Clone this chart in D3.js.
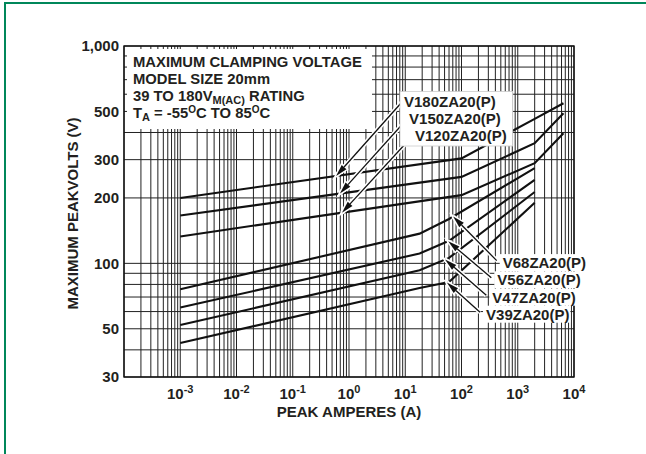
<!DOCTYPE html>
<html>
<head>
<meta charset="utf-8">
<script src="https://cdn.jsdelivr.net/npm/d3@7"></script>
<style>
body { margin: 0; background: #fff; }
text { font-family: "Liberation Sans", Arial, Helvetica, sans-serif; font-weight: bold; fill: #231f20; }
</style>
</head>
<body>
<div id="chart"></div>
<script>
// peak current (A) and clamping voltage (V)
const ampsUpper = [0.001, 100, 2000, 6500];
const voltsV180 = [200, 304, 462, 545];
const voltsV150 = [166, 250, 357, 490];
const voltsV120 = [133, 206, 289, 397];

const ampsLower = [0.001, 18, 60, 2000];
const voltsV68 = [76, 137, 160, 274];
const voltsV56 = [62.6, 111, 127, 242];
const voltsV47 = [52, 93, 106, 213];
const voltsV39 = [43, 77, 82, 190];

const seriesNames = ['V180ZA20(P)', 'V150ZA20(P)', 'V120ZA20(P)', 'V68ZA20(P)', 'V56ZA20(P)', 'V47ZA20(P)', 'V39ZA20(P)'];
// where each label sits and where its arrow hits the curve
const labelAmps = [9.5, 11.7, 14.9, 540, 433, 353, 273];
const labelVolts = [552, 461, 387, 100.7, 83.9, 69.8, 58.3];
const tipAmps = [0.59, 0.69, 0.75, 71, 58, 51, 55];

const yTickValues = [30, 50, 100, 200, 300, 500, 1000];
const xTickExps = [-3, -2, -1, 0, 1, 2, 3, 4];
const legendLines = [
    [['MAXIMUM CLAMPING VOLTAGE', 0]],
    [['MODEL SIZE 20mm', 0]],
    [['39 TO 180V', 0], ['M(AC)', 1], [' RATING', 0]],
    [['T', 0], ['A', 1], [' = -55', 0], ['O', 2], ['C TO 85', 0], ['O', 2], ['C', 0]]
];

const series = [
    { amps: ampsUpper, volts: voltsV180 },
    { amps: ampsUpper, volts: voltsV150 },
    { amps: ampsUpper, volts: voltsV120 },
    { amps: ampsLower, volts: voltsV68 },
    { amps: ampsLower, volts: voltsV56 },
    { amps: ampsLower, volts: voltsV47 },
    { amps: ampsLower, volts: voltsV39 }
];

const W = 646, H = 454;
const plot = { left: 124, top: 46, right: 574, bottom: 377 };

const svg = d3.select('#chart').append('svg')
    .attr('width', W)
    .attr('height', H);

const x = d3.scaleLog().domain([1e-4, 1e4]).range([plot.left, plot.right]);
const y = d3.scaleLog().domain([30, 1000]).range([plot.bottom, plot.top]);

// green frame, only left and top edges show
svg.append('line').attr('x1', 5).attr('y1', 2).attr('x2', 5).attr('y2', H)
    .attr('stroke', '#00875a').attr('stroke-width', 2);
svg.append('line').attr('x1', 4).attr('y1', 3).attr('x2', W).attr('y2', 3)
    .attr('stroke', '#00875a').attr('stroke-width', 2);

// grid
const grid = svg.append('g').attr('stroke', '#222').attr('stroke-width', 1);
x.ticks().forEach(v => {
    grid.append('line')
        .attr('x1', x(v)).attr('x2', x(v))
        .attr('y1', plot.top).attr('y2', plot.bottom);
});
y.ticks().forEach(v => {
    grid.append('line')
        .attr('x1', plot.left).attr('x2', plot.right)
        .attr('y1', y(v)).attr('y2', y(v));
});

// plot frame
svg.append('rect')
    .attr('x', plot.left).attr('y', plot.top)
    .attr('width', plot.right - plot.left).attr('height', plot.bottom - plot.top)
    .attr('fill', 'none').attr('stroke', '#111').attr('stroke-width', 1.4);

// legend box (inset so the edge ticks still show)
svg.append('rect')
    .attr('x', 127).attr('y', 49).attr('width', 245).attr('height', 80)
    .attr('fill', '#fff');

const legend = svg.append('g');
legendLines.forEach((parts, i) => {
    const t = legend.append('text')
        .attr('x', 133).attr('y', 66.5 + i * 17)
        .style('font-size', '14.8px');
    let prevKind = 0;
    parts.forEach(([str, kind]) => {
        const ts = t.append('tspan').text(str);
        if (kind === 1) ts.attr('dy', 3.5).style('font-size', '11px');
        if (kind === 2) ts.attr('dy', -5).style('font-size', '10px');
        // put baseline back after sub/superscript
        if (kind === 0 && prevKind === 1) ts.attr('dy', -3.5);
        if (kind === 0 && prevKind === 2) ts.attr('dy', 5);
        prevKind = kind;
    });
});

// y tick labels
svg.append('g').selectAll('text')
    .data(yTickValues)
    .join('text')
    .attr('x', 119)
    .attr('y', d => y(d))
    .attr('dy', '0.36em')
    .attr('text-anchor', 'end')
    .style('font-size', '15px')
    .text(d => d3.format(',')(d));

// x tick labels as powers of ten
const xLabels = svg.append('g');
xTickExps.forEach(e => {
    const t = xLabels.append('text')
        .attr('x', x(Math.pow(10, e)))
        .attr('y', 399)
        .attr('text-anchor', 'middle')
        .style('font-size', '15px');
    t.append('tspan').text('10');
    t.append('tspan').attr('dy', -6).style('font-size', '11px').text(e);
});

// axis titles
svg.append('text')
    .attr('x', (plot.left + plot.right) / 2).attr('y', 417)
    .attr('text-anchor', 'middle')
    .style('font-size', '15px')
    .text('PEAK AMPERES (A)');
svg.append('text')
    .attr('transform', `translate(78, ${(plot.top + plot.bottom) / 2 + 2}) rotate(-90)`)
    .attr('text-anchor', 'middle')
    .style('font-size', '15px')
    .text('MAXIMUM PEAKVOLTS (V)');

// series labels (need their size for the white patches)
const labelLayer = svg.append('g');
const patchLayer = labelLayer.append('g');
const labels = seriesNames.map((name, i) => labelLayer.append('text')
    .attr('x', x(labelAmps[i]))
    .attr('y', y(labelVolts[i]))
    .attr('dy', '0.36em')
    .style('font-size', '15px')
    .text(name));

const boxes = labels.map(l => l.node().getBBox());
// one patch for the upper three labels, one each for the lower ones
const up = boxes.slice(0, 3);
const ux0 = d3.min(up, b => b.x) - 4, ux1 = d3.max(up, b => b.x + b.width) + 6;
const uy0 = d3.min(up, b => b.y) - 2, uy1 = d3.max(up, b => b.y + b.height) + 2;
patchLayer.append('rect')
    .attr('x', ux0).attr('y', uy0).attr('width', ux1 - ux0).attr('height', uy1 - uy0)
    .attr('fill', '#fff').attr('stroke', '#ccc').attr('stroke-width', 0.8);
boxes.slice(3).forEach(b => {
    patchLayer.append('rect')
        .attr('x', b.x - 3).attr('y', b.y)
        .attr('width', b.width + 4).attr('height', b.height)
        .attr('fill', '#fff');
});
labelLayer.raise();

// curves
const line = d3.line().x(d => x(d[0])).y(d => y(d[1]));
const curves = svg.append('g');
series.forEach(s => {
    curves.append('path')
        .attr('d', line(d3.zip(s.amps, s.volts)))
        .attr('fill', 'none')
        .attr('stroke', '#111')
        .attr('stroke-width', 2.1);
});

// log-log interpolation so an arrow tip lands on its curve
const voltsAt = (s, a) => {
    const la = Math.log10(a);
    for (let k = 1; k < s.amps.length; k++) {
        const a0 = Math.log10(s.amps[k - 1]), a1 = Math.log10(s.amps[k]);
        if (la <= a1) {
            const f = (la - a0) / (a1 - a0);
            return Math.pow(10, Math.log10(s.volts[k - 1]) + f * (Math.log10(s.volts[k]) - Math.log10(s.volts[k - 1])));
        }
    }
    return s.volts[s.volts.length - 1];
};

const arrows = svg.append('g');
series.forEach((s, i) => {
    const tx = x(tipAmps[i]), ty = y(voltsAt(s, tipAmps[i]));
    const b = boxes[i];
    const sx = b.x - (i < 3 ? 2 : 6), sy = b.y + b.height / 2 - (i < 3 ? 0 : 2);
    const ang = Math.atan2(ty - sy, tx - sx);
    const len = 12, half = 3.2;
    const bx = tx - len * Math.cos(ang), by = ty - len * Math.sin(ang);
    const nx = -Math.sin(ang) * half, ny = Math.cos(ang) * half;
    const head = [[tx, ty], [bx + nx, by + ny], [bx - nx, by - ny]];

    arrows.append('line')
        .attr('x1', sx).attr('y1', sy).attr('x2', tx).attr('y2', ty)
        .attr('stroke', '#fff').attr('stroke-width', 4.5);
    arrows.append('polygon')
        .attr('points', head.join(' '))
        .attr('fill', '#fff').attr('stroke', '#fff').attr('stroke-width', 3);
    arrows.append('line')
        .attr('x1', sx).attr('y1', sy).attr('x2', bx).attr('y2', by)
        .attr('stroke', '#111').attr('stroke-width', 1.3);
    arrows.append('polygon')
        .attr('points', head.join(' '))
        .attr('fill', '#111');
});
labelLayer.raise();
</script>
</body>
</html>
